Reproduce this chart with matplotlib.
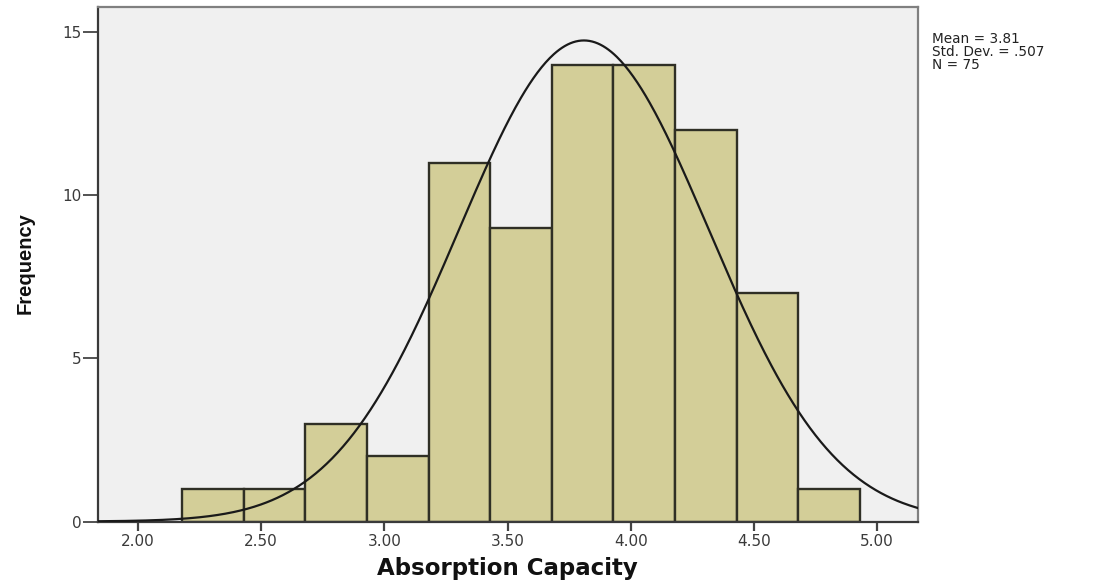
import numpy as np
import matplotlib
matplotlib.use("Agg")
import matplotlib.pyplot as plt

# Data
bin_start = 2.18
bin_width = 0.25
counts = [1, 1, 3, 2, 11, 9, 14, 14, 12, 7, 1]
mean_val = 3.81
std_val = 0.507
n_val = 75
x_ticks = [2.00, 2.50, 3.00, 3.50, 4.00, 4.50, 5.00]
x_tick_labels = ["2.00", "2.50", "3.00", "3.50", "4.00", "4.50", "5.00"]
y_ticks = [0, 5, 10, 15]
y_tick_labels = ["0", "5", "10", "15"]
stats_lines = ["Mean = 3.81", "Std. Dev. = .507", "N = 75"]

W, H = 1093, 580
fig = plt.figure(figsize=(W / 100, H / 100), dpi=100)
ax = fig.add_axes([98 / W, 1 - 521.5 / H, (918 - 98) / W, (521.5 - 7) / H])
ax.set_facecolor("#F0F0F0")

edges = bin_start + bin_width * np.arange(len(counts) + 1)
ax.bar(edges[:-1], counts, width=bin_width, align="edge",
       color="#D3CE98", edgecolor="#2f2f25", linewidth=1.7, zorder=2)

xlo, xhi = 1.838, 5.166
xs = np.linspace(xlo, xhi, 600)
pdf = n_val * bin_width * np.exp(-0.5 * ((xs - mean_val) / std_val) ** 2) / (std_val * np.sqrt(2 * np.pi))
ax.plot(xs, pdf, color="#1a1a1a", linewidth=1.6, zorder=3)

ax.set_xlim(xlo, xhi)
ax.set_ylim(0, 15.78)
ax.set_xticks(x_ticks)
ax.set_xticklabels(x_tick_labels)
ax.set_yticks(y_ticks)
ax.set_yticklabels(y_tick_labels)

for lab in ax.get_xticklabels() + ax.get_yticklabels():
    lab.set_fontfamily("DejaVu Sans")
    lab.set_fontsize(11)
    lab.set_color("#3a3a3a")
ax.tick_params(axis="x", direction="out", length=6.5, width=1.6, color="#444444", pad=2.5)
ax.tick_params(axis="y", direction="out", length=10.5, width=1.3, color="#444444", pad=1.5)

for side in ["left", "bottom"]:
    ax.spines[side].set_color("#3a3a3a")
    ax.spines[side].set_linewidth(1.6)
for side in ["top", "right"]:
    ax.spines[side].set_color("#808080")
    ax.spines[side].set_linewidth(1.6)

fig.text(507.5 / W, 1 - 575 / H, "Absorption Capacity", fontfamily="DejaVu Sans",
         fontweight="bold", fontsize=16.5, color="#111111", ha="center", va="baseline")
fig.text(25 / W, 1 - 263 / H, "Frequency",
         fontfamily=["Liberation Sans Narrow", "Liberation Sans"],
         fontweight="bold", fontsize=14.5, color="#111111",
         rotation=90, ha="center", va="center")

for i, line in enumerate(stats_lines):
    fig.text(932 / W, 1 - (43 + 13.2 * i) / H, line,
             fontfamily="DejaVu Sans", fontsize=9.8, color="#222222",
             va="baseline", ha="left")

fig.savefig("out.png", dpi=100)
